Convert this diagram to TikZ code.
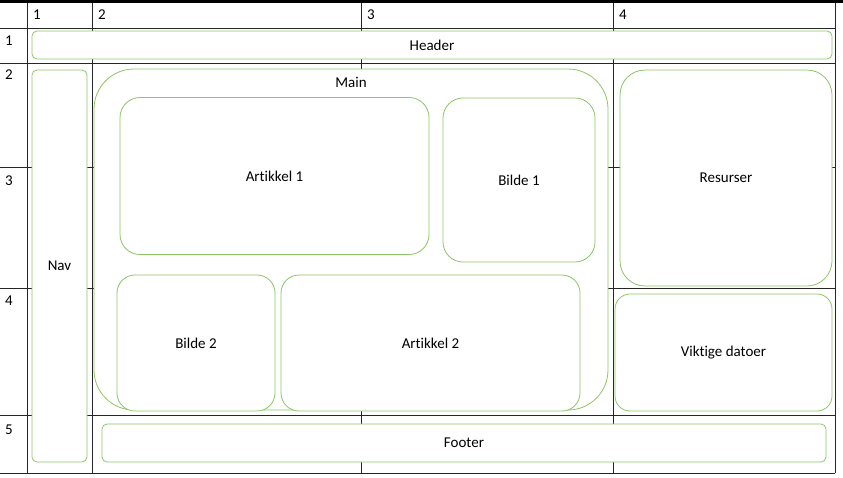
\documentclass[tikz,border=0pt]{standalone}
\usepackage{fontspec}
\setmainfont{Carlito}[Ligatures=NoCommon]
\usepackage{xcolor}
\definecolor{areagreen}{RGB}{140,198,100}

\begin{document}
\begin{tikzpicture}[
    x=1pt, y=-1pt,
    area/.style={draw=areagreen, line width=0.8pt, fill=white, inner sep=0pt,
                 font=\fontsize{15}{18}\selectfont},
    gridline/.style={draw=black!85, line width=0.9pt},
    num/.style={anchor=west, inner sep=0pt, font=\fontsize{15}{18}\selectfont}
  ]
    \useasboundingbox (0,0) rectangle (843,477);

    % grid
    \foreach \gx in {27,92,361,613,835}
      \draw[gridline] (\gx,0) -- (\gx,473);
    \foreach \gy in {28,63,167,288,415,473}
      \draw[gridline] (0,\gy) -- (835,\gy);
    \draw[black, line width=3pt] (0,1.5) -- (843,1.5);

    % track numbers
    \foreach \gx/\lab in {33/1,98/2,367/3,619/4}
      \node[num] (col\lab) at (\gx,15) {\lab};
    \foreach \gy/\lab in {41/1,75/2,181/3,301/4,430/5}
      \node[num] (row\lab) at (5,\gy) {\lab};

    % areas
    \node[area, rounded corners=5pt, minimum width=800pt, minimum height=28pt] (header) at (432,45) {Header};
    \node[area, rounded corners=5pt, minimum width=55pt, minimum height=392pt] (nav) at (59.5,266) {Nav};
    \node[area, rounded corners=40pt, minimum width=514pt, minimum height=341pt,
          label={[font=\fontsize{15}{18}\selectfont, anchor=center, yshift=-14pt]north:Main}] (main) at (351,239.5) {};
    \node[area, rounded corners=20pt, minimum width=309pt, minimum height=157pt] (art1) at (274.5,176) {Artikkel 1};
    \node[area, rounded corners=20pt, minimum width=152pt, minimum height=164pt] (img1) at (519,180) {Bilde 1};
    \node[area, rounded corners=18pt, minimum width=158pt, minimum height=136pt] (img2) at (196,343) {Bilde 2};
    \node[area, rounded corners=18pt, minimum width=299pt, minimum height=136pt] (art2) at (430.5,343) {Artikkel 2};
    \node[area, rounded corners=25pt, minimum width=212pt, minimum height=216pt] (res) at (726,178) {Resurser};
    \node[area, rounded corners=15pt, minimum width=217pt, minimum height=117pt] (dates) at (723.5,352.5) {Viktige datoer};
    \node[area, rounded corners=5pt, minimum width=724pt, minimum height=38pt] (footer) at (464,443) {Footer};
  \end{tikzpicture}
\end{document}
